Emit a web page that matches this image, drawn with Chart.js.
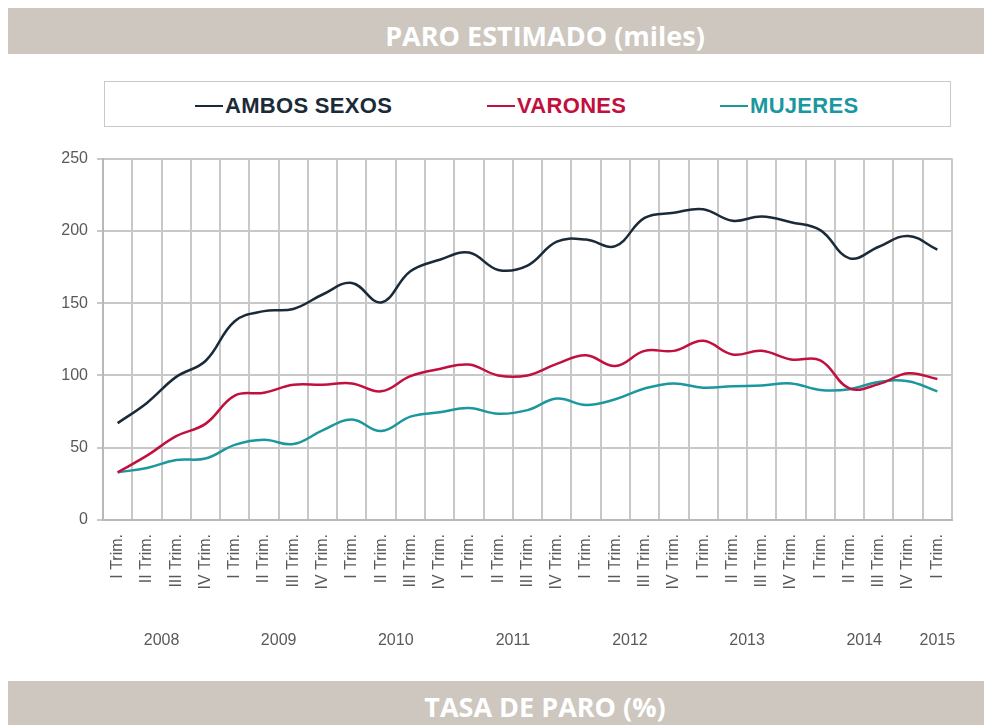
<!DOCTYPE html>
<html>
<head>
<meta charset="utf-8">
<script src="https://cdn.jsdelivr.net/npm/chart.js@4.4.1/dist/chart.umd.min.js"></script>
<style>
  body{margin:0;background:#fff;width:984px;height:725px;position:relative;overflow:hidden;font-family:"Liberation Sans",Arial,sans-serif;}
  .band{position:absolute;left:8px;right:0;background:#cdc7c0;}
  .band span{position:absolute;left:537px;transform:translateX(-50%);color:#fff;font-family:"Open Sans",sans-serif;font-weight:700;font-size:27px;line-height:46px;white-space:nowrap;}
  #legendBox{position:absolute;left:104px;top:81px;width:845px;height:44px;border:1px solid #c9c9c9;}
  .item{position:absolute;top:11px;font-weight:700;font-size:22px;white-space:nowrap;letter-spacing:0.3px;}
  .item i{display:inline-block;width:28px;height:2px;vertical-align:middle;margin-right:2px;position:relative;top:-1px;}
  #myChart{position:absolute;left:0;top:140px;}
</style>
</head>
<body>
<div class="band" style="top:8px;height:46px;"><span style="top:5px;">PARO ESTIMADO (miles)</span></div>
<div id="legendBox"></div>
<canvas id="myChart" width="984" height="530"></canvas>
<div class="band" style="top:681px;height:44px;"><span style="top:3px;">TASA DE PARO (%)</span></div>
<script>
var trimestres = ["I Trim.","II Trim.","III Trim.","IV Trim.",
  "I Trim.","II Trim.","III Trim.","IV Trim.",
  "I Trim.","II Trim.","III Trim.","IV Trim.",
  "I Trim.","II Trim.","III Trim.","IV Trim.",
  "I Trim.","II Trim.","III Trim.","IV Trim.",
  "I Trim.","II Trim.","III Trim.","IV Trim.",
  "I Trim.","II Trim.","III Trim.","IV Trim.",
  "I Trim."];
var years = ["2008","2009","2010","2011","2012","2013","2014","2015"];
var yearFirst = [0,4,8,12,16,20,24,28];
var yearLast = [3,7,11,15,19,23,27,28];

var ambos = [67,81,99,110,137.5,144.5,146,156,164,150.5,172,180,185,173,176,
  192.5,194,189.5,209,212.5,215,207,210,206,200.5,181,189,196.5,187];
var varones = [33,44.5,58,66.5,86,88,93.5,93.5,94.5,89,99.5,104.5,107.5,100,100,
  108,114,106.5,117,117,124,114.5,117,111,110.5,91,94,101.5,97.5];
var mujeres = [33,36,41.5,42.5,52,55.5,52.5,62,69.5,61.5,71.5,74.5,77.5,73.5,76,
  84,79.5,83.5,91,94.5,91.5,92.5,93,94.5,90,90.5,95.5,96,89];

var seriesNames = ["AMBOS SEXOS","VARONES","MUJERES"];
var seriesColors = ["#1b2a38","#c2103e","#1b979e"];
var legendLeft = [195,487,720];

// legend in the box above the chart
var box = document.getElementById("legendBox");
for (var i = 0; i < seriesNames.length; i++) {
  var s = document.createElement("span");
  s.className = "item";
  s.style.left = (legendLeft[i] - 105) + "px";
  s.style.color = seriesColors[i];
  s.innerHTML = '<i style="background:' + seriesColors[i] + '"></i>' + seriesNames[i];
  box.appendChild(s);
}

// years under the quarter labels
var yearLabels = {
  id: "yearLabels",
  afterDraw: function(chart) {
    var ctx = chart.ctx;
    var x = chart.scales.x;
    ctx.save();
    ctx.fillStyle = "#595959";
    ctx.font = "16px 'Liberation Sans', Arial, sans-serif";
    ctx.textAlign = "center";
    ctx.textBaseline = "middle";
    for (var i = 0; i < years.length; i++) {
      var mid = (x.getPixelForValue(yearFirst[i]) + x.getPixelForValue(yearLast[i])) / 2;
      ctx.fillText(years[i], mid, chart.chartArea.bottom + 121);
    }
    ctx.restore();
  }
};

var ctx = document.getElementById("myChart").getContext("2d");
var myChart = new Chart(ctx, {
  type: "line",
  data: {
    labels: trimestres,
    datasets: [
      {label: seriesNames[0], data: ambos, borderColor: seriesColors[0]},
      {label: seriesNames[1], data: varones, borderColor: seriesColors[1]},
      {label: seriesNames[2], data: mujeres, borderColor: seriesColors[2]}
    ]
  },
  options: {
    responsive: false,
    animation: false,
    layout: {padding: {top: 17, right: 32, left: 0, bottom: 0}},
    elements: {
      line: {borderWidth: 2.5, tension: 0.4, fill: false},
      point: {radius: 0}
    },
    plugins: {legend: {display: false}, tooltip: {enabled: false}},
    scales: {
      x: {
        offset: true,
        grid: {offset: true, color: "#c8c8c8", lineWidth: 2, drawTicks: false},
        border: {color: "#b8b8b8", width: 2},
        ticks: {
          color: "#595959",
          font: {size: 16, family: "'Liberation Sans', Arial, sans-serif"},
          minRotation: 90, maxRotation: 90, autoSkip: false, padding: 14
        },
        afterFit: function(scale) { scale.height = 150; }
      },
      y: {
        min: 0, max: 250,
        grid: {color: "#c8c8c8", lineWidth: 2, tickLength: 6},
        border: {color: "#b8b8b8", width: 2},
        ticks: {
          stepSize: 50, padding: 9, color: "#595959",
          font: {size: 16, family: "'Liberation Sans', Arial, sans-serif"}
        },
        afterFit: function(scale) { scale.width = 103; }
      }
    }
  },
  plugins: [yearLabels]
});
</script>
</body>
</html>
